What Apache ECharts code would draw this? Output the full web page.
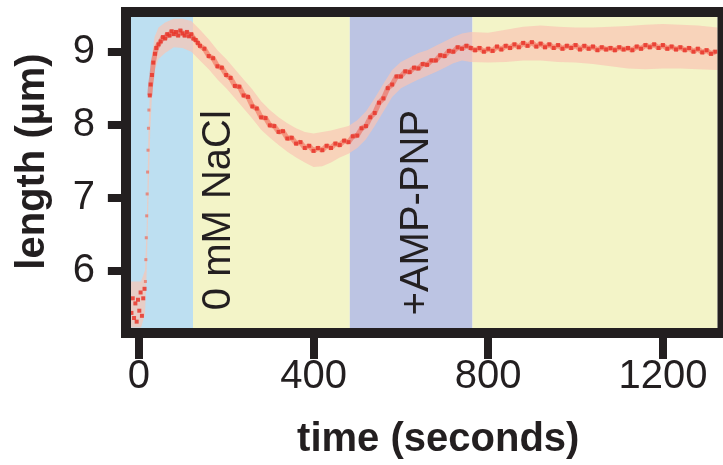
<!DOCTYPE html>
<html>
<head>
<meta charset="utf-8">
<script src="https://cdn.jsdelivr.net/npm/echarts@6/dist/echarts.min.js"></script>
<style>
  html, body { margin: 0; padding: 0; background: #ffffff; }
  #chart { width: 723px; height: 465px; }
</style>
</head>
<body>
<div id="chart"></div>
<script>
// Tick values on each axis
const timeTicks = [0, 400, 800, 1200];
const lengthTicks = [6, 7, 8, 9];

// Axis ranges (seconds, µm)
const timeRange = [-18, 1325];
const lengthRange = [5.213, 9.475];

// Buffer phases: [start, end] in seconds
const phaseSpans = [[-18, 124], [124, 483], [483, 764], [764, 1325]];
const phaseNames = ['buffer', '0 mM NaCl', '+AMP-PNP', 'wash'];

// Measured filament length [time s, length µm], before the jump
const baseline = [
  [-17,5.42],[-14,5.62],[-11,5.35],[-8,5.55],[-5,5.30],[-2,5.60],[1,5.45],[4,5.70],[7,5.38],[10,5.62],[13,5.75]
];
// Fast extension right after the buffer exchange (sparse samples)
const rise = [
  [15,5.85],[16,6.15],[17,6.45],[18,6.75],[19,7.05],[20,7.35],[21,7.65],[22,7.95],[23,8.20]
];
// Remainder of the recording
const trace = [
  [25,8.40],[27,8.55],
  [30,8.68],[33,8.85],[37,8.97],[40,9.05],[45,9.10],[50,9.14],[55,9.20],[60,9.18],[65,9.24],[70,9.22],[75,9.28],
  [80,9.24],[85,9.27],[90,9.22],[95,9.29],[100,9.25],[105,9.22],[110,9.27],[115,9.21],[120,9.24],[125,9.18],
  [130,9.16],[135,9.12],[140,9.08],[150,9.04],[160,8.94],[170,8.91],[180,8.80],[190,8.78],[200,8.68],[210,8.64],
  [220,8.53],[230,8.52],[240,8.40],[250,8.38],[260,8.25],[270,8.22],[280,8.10],[290,8.09],[300,7.99],[310,7.98],
  [320,7.90],[330,7.91],[340,7.81],[350,7.82],[360,7.74],[370,7.76],[380,7.68],[390,7.71],[400,7.64],[410,7.68],
  [420,7.65],[430,7.71],[440,7.68],[450,7.74],[460,7.72],[470,7.78],[480,7.76],[490,7.84],[500,7.85],[510,7.95],
  [520,7.98],[530,8.10],[540,8.16],[550,8.30],[560,8.36],[570,8.50],[580,8.55],[590,8.66],[600,8.66],[610,8.73],
  [620,8.72],[630,8.78],[640,8.77],[650,8.83],[660,8.82],[670,8.88],[680,8.88],[690,8.95],[700,8.94],[710,9.01],
  [720,9.00],[730,9.06],[740,9.04],[750,9.08],[760,9.05],[770,9.02],[780,9.05],[790,9.00],[800,9.04],[810,9.01],
  [820,9.07],[830,9.03],[840,9.08],[850,9.05],[860,9.10],[870,9.06],[880,9.12],[890,9.08],[900,9.13],[910,9.07],
  [920,9.11],[930,9.06],[940,9.10],[950,9.05],[960,9.09],[970,9.04],[980,9.08],[990,9.05],[1000,9.09],[1010,9.03],
  [1020,9.08],[1030,9.04],[1040,9.07],[1050,9.02],[1060,9.06],[1070,9.03],[1080,9.05],[1090,9.02],[1100,9.06],
  [1110,9.03],[1120,9.05],[1130,9.02],[1140,9.07],[1150,9.04],[1160,9.09],[1170,9.06],[1180,9.10],[1190,9.05],
  [1200,9.09],[1210,9.04],[1220,9.07],[1230,9.03],[1240,9.06],[1250,9.02],[1260,9.05],[1270,9.00],[1280,9.04],
  [1290,8.99],[1300,9.02],[1310,8.97],[1320,9.00]
];

// Spread envelope of the measurement (time, lower, upper)
const haloTime = [-18, 5, 14, 18, 22, 26, 30, 36, 45, 60, 80, 100, 120, 140, 160, 180, 200, 220, 240, 260,
  280, 300, 320, 340, 360, 380, 400, 420, 440, 460, 480, 500, 520, 540, 560, 580, 600, 620, 640, 660, 680,
  700, 720, 740, 760, 800, 840, 880, 920, 960, 1000, 1040, 1080, 1120, 1160, 1200, 1240, 1280, 1325];
const haloLow = [5.22, 5.22, 5.40, 6.00, 7.00, 7.90, 8.40, 8.75, 8.90, 8.98, 9.06, 9.05, 9.00, 8.88, 8.76,
  8.62, 8.50, 8.36, 8.22, 8.08, 7.93, 7.82, 7.72, 7.63, 7.55, 7.48, 7.42, 7.43, 7.48, 7.55, 7.60, 7.68, 7.80,
  7.98, 8.18, 8.38, 8.50, 8.56, 8.62, 8.67, 8.72, 8.78, 8.84, 8.88, 8.86, 8.85, 8.86, 8.88, 8.88, 8.86, 8.85,
  8.83, 8.80, 8.77, 8.76, 8.77, 8.77, 8.76, 8.75];
const haloHigh = [5.85, 5.85, 6.00, 6.60, 7.90, 8.60, 8.95, 9.20, 9.33, 9.40, 9.45, 9.45, 9.42, 9.30, 9.17,
  9.02, 8.90, 8.76, 8.62, 8.48, 8.32, 8.20, 8.10, 8.02, 7.95, 7.90, 7.88, 7.90, 7.92, 7.95, 7.98, 8.06, 8.18,
  8.36, 8.56, 8.75, 8.86, 8.92, 8.98, 9.02, 9.08, 9.14, 9.20, 9.25, 9.27, 9.26, 9.30, 9.34, 9.36, 9.34, 9.33,
  9.33, 9.34, 9.35, 9.37, 9.38, 9.37, 9.36, 9.33];

const INK = '#231f20';
const FONT = '"Liberation Sans", Arial, sans-serif';
const phaseColors = ['#bddff1', '#f3f4c8', '#bcc4e3', '#f3f4c8'];

const chart = echarts.init(document.getElementById('chart'), null, { renderer: 'canvas' });

chart.setOption({
  animation: false,
  backgroundColor: '#ffffff',
  grid: { left: 131, top: 17, right: 5.5, bottom: 134, containLabel: false },
  xAxis: {
    type: 'value',
    min: timeRange[0],
    max: timeRange[1],
    axisLine: { show: false },
    splitLine: { show: false },
    axisTick: {
      show: true, customValues: timeTicks, length: 31, inside: false,
      lineStyle: { color: INK, width: 8 }
    },
    axisLabel: {
      customValues: timeTicks, margin: 29, fontSize: 40, fontFamily: FONT, color: INK,
      formatter: (v) => String(v)
    },
    name: 'time (seconds)',
    nameLocation: 'middle',
    nameGap: 92,
    nameTextStyle: { fontSize: 40, fontWeight: 'bold', fontFamily: FONT, color: INK, padding: [0, 0, 0, 28] }
  },
  yAxis: {
    type: 'value',
    min: lengthRange[0],
    max: lengthRange[1],
    axisLine: { show: false },
    splitLine: { show: false },
    axisTick: {
      show: true, customValues: lengthTicks, length: 31, inside: false,
      lineStyle: { color: INK, width: 8 }
    },
    axisLabel: {
      customValues: lengthTicks, margin: 36, fontSize: 40, fontFamily: FONT, color: INK,
      formatter: (v) => String(v)
    },
    name: 'length (µm)',
    nameLocation: 'middle',
    nameGap: 78,
    nameTextStyle: { fontSize: 40, fontWeight: 'bold', fontFamily: FONT, color: INK, padding: [0, 0, 0, 22] }
  },
  series: [
    {
      // buffer phases as background bands
      type: 'line',
      data: [],
      silent: true,
      markArea: {
        silent: true,
        data: phaseSpans.map((s, i) => [
          { name: phaseNames[i], xAxis: s[0], itemStyle: { color: phaseColors[i], opacity: 1 } },
          { xAxis: s[1] }
        ]),
        label: { show: false }
      }
    },
    {
      // spread envelope
      type: 'custom',
      silent: true,
      clip: true,
      data: [[haloTime[0], haloLow[0]]],
      renderItem: function (params, api) {
        const pts = [];
        for (let i = 0; i < haloTime.length; i++) pts.push(api.coord([haloTime[i], haloHigh[i]]));
        for (let i = haloTime.length - 1; i >= 0; i--) pts.push(api.coord([haloTime[i], haloLow[i]]));
        return {
          type: 'polygon',
          shape: { points: pts },
          style: { fill: 'rgba(250,196,180,0.7)' }
        };
      },
      z: 2
    },
    {
      type: 'line',
      data: trace,
      showSymbol: false,
      silent: true,
      lineStyle: { color: '#ef4a36', width: 5, opacity: 0.45 },
      z: 3
    },
    {
      type: 'scatter',
      data: baseline.concat(trace),
      symbol: 'rect',
      symbolSize: 4,
      silent: true,
      itemStyle: { color: '#e8352a', opacity: 0.85 },
      z: 4
    },
    {
      type: 'scatter',
      data: rise,
      symbol: 'rect',
      symbolSize: 3,
      silent: true,
      itemStyle: { color: '#ec6a58', opacity: 0.7 },
      z: 4
    }
  ]
});

// Frame around the plot area and the phase captions, placed in data coordinates
const tl = chart.convertToPixel({ gridIndex: 0 }, [timeRange[0], lengthRange[1]]);
const br = chart.convertToPixel({ gridIndex: 0 }, [timeRange[1], lengthRange[0]]);
const bw = 10;
const nacl = chart.convertToPixel({ gridIndex: 0 }, [183, 6.828]);
const amp = chart.convertToPixel({ gridIndex: 0 }, [637, 6.794]);

chart.setOption({
  graphic: [
    {
      type: 'rect', silent: true, z: 100,
      shape: { x: tl[0] - bw / 2, y: tl[1] - bw / 2, width: br[0] - tl[0] + bw, height: br[1] - tl[1] + bw },
      style: { fill: null, stroke: INK, lineWidth: bw }
    },
    {
      type: 'text', silent: true, z: 90, x: nacl[0], y: nacl[1], rotation: Math.PI / 2,
      style: { text: '0 mM NaCl', fontSize: 40, fontFamily: FONT, fill: INK, align: 'center', verticalAlign: 'middle' }
    },
    {
      type: 'text', silent: true, z: 90, x: amp[0], y: amp[1], rotation: Math.PI / 2,
      style: { text: '+AMP-PNP', fontSize: 40, fontFamily: FONT, fill: INK, align: 'center', verticalAlign: 'middle' }
    }
  ]
});
</script>
</body>
</html>
